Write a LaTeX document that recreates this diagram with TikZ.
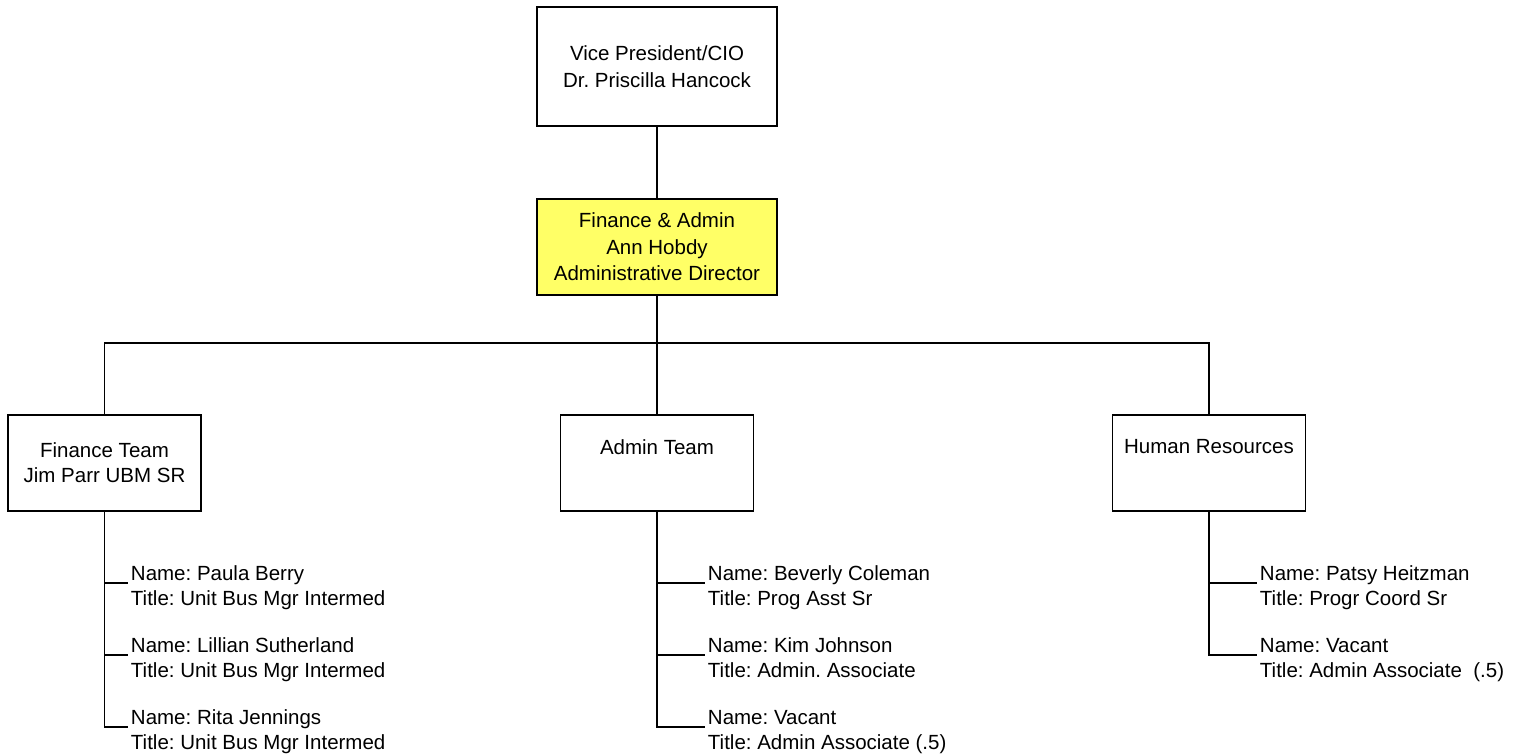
\documentclass[tikz,border=0pt]{standalone}
\usepackage{fontspec}
\setmainfont{Liberation Sans}
\definecolor{boxyellow}{HTML}{FFFF66}
\frenchspacing
\begin{document}
\begin{tikzpicture}[x=1pt,y=-1pt,
  line width=1.9pt,
  orgbox/.style={draw, rectangle, inner sep=0pt, minimum width=240pt, minimum height=119pt,
    align=center, font=\fontsize{20.5}{26.5}\selectfont},
  teambox/.style={draw, rectangle, inner sep=0pt, minimum width=193pt, minimum height=96pt,
    align=center, font=\fontsize{20.5}{25}\selectfont},
  person/.style={anchor=west, inner sep=0pt, inner xsep=2pt, align=left, yshift=-4.5pt,
    font=\fontsize{20.5}{25}\selectfont}]
\useasboundingbox (0,0) rectangle (1528,755);

% top levels
\node[orgbox] (vp) at (657,66.5) {Vice President/CIO\\Dr. Priscilla Hancock};
\node[orgbox, fill=boxyellow, minimum height=96pt] (fa) at (657,247)
  {Finance \& Admin\\Ann Hobdy\\Administrative Director};
\draw (vp) -- (fa);

% teams
\coordinate (bus) at (657,343);
\node[teambox] (fin) at (104.5,463) {Finance Team\\Jim Parr UBM SR};
\node[teambox] (adm) at (657,463) {Admin Team\\\strut};
\node[teambox] (hr) at (1209,463) {Human Resources\\\strut};
\draw (fa) -- (bus) -- (adm);
\draw (fin.north) |- (bus) -| (hr.north);

% finance staff
\coordinate (f1) at (128,583);
\coordinate (f2) at (128,655);
\coordinate (f3) at (128,727);
\node[person] (pf1) at (f1) {\strut Name: Paula Berry\\\strut Title: Unit Bus Mgr Intermed};
\node[person] (pf2) at (f2) {\strut Name: Lillian Sutherland\\\strut Title: Unit Bus Mgr Intermed};
\node[person] (pf3) at (f3) {\strut Name: Rita Jennings\\\strut Title: Unit Bus Mgr Intermed};
\draw (fin.south) |- (f1);
\draw (fin.south) |- (f2);
\draw (fin.south) |- (f3);

% admin staff
\coordinate (a1) at (705,583);
\coordinate (a2) at (705,655);
\coordinate (a3) at (705,727);
\node[person] (pa1) at (a1) {\strut Name: Beverly Coleman\\\strut Title: Prog Asst Sr};
\node[person] (pa2) at (a2) {\strut Name: Kim Johnson\\\strut Title: Admin. Associate};
\node[person] (pa3) at (a3) {\strut Name: Vacant\\\strut Title: Admin Associate (.5)};
\draw (adm.south) |- (a1);
\draw (adm.south) |- (a2);
\draw (adm.south) |- (a3);

% HR staff
\coordinate (h1) at (1257,583);
\coordinate (h2) at (1257,655);
\node[person] (ph1) at (h1) {\strut Name: Patsy Heitzman\\\strut Title: Progr Coord Sr};
\node[person] (ph2) at (h2) {\strut Name: Vacant\\\strut Title: Admin Associate\ \ (.5)};
\draw (hr.south) |- (h1);
\draw (hr.south) |- (h2);
\end{tikzpicture}
\end{document}
